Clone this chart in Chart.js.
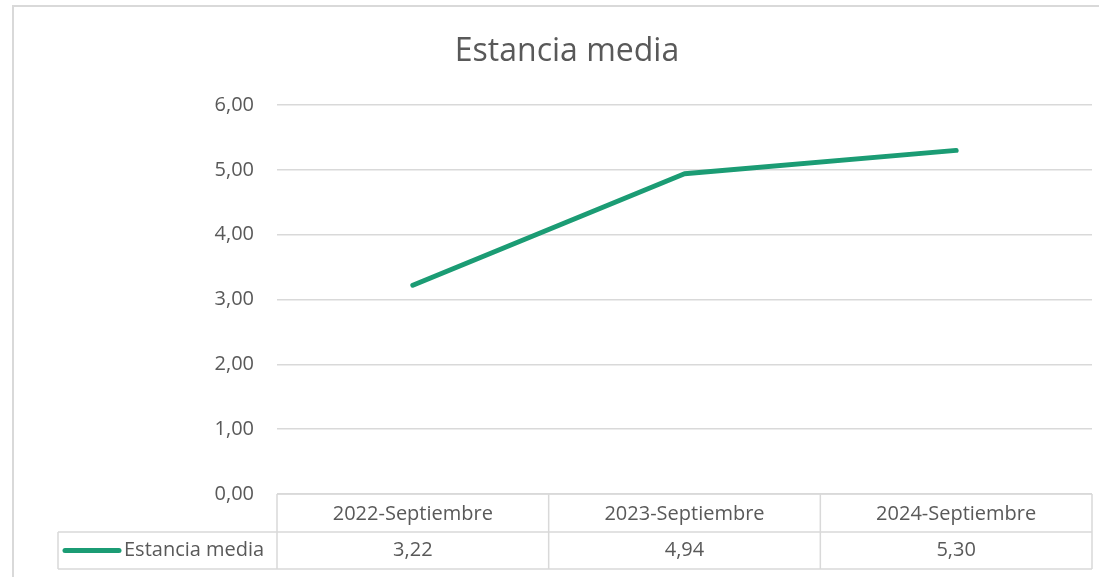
<!DOCTYPE html>
<html>
<head>
<meta charset="utf-8">
<script src="https://cdn.jsdelivr.net/npm/chart.js@4.4.1/dist/chart.umd.min.js"></script>
<style>
  html, body { margin: 0; padding: 0; background: #ffffff; }
  #wrap { width: 1099px; height: 577px; }
</style>
</head>
<body>
<div id="wrap"><canvas id="c" width="1099" height="577"></canvas></div>
<script>
const categories = ["2022-Septiembre", "2023-Septiembre", "2024-Septiembre"];
const seriesName = "Estancia media";
const values = [3.22, 4.94, 5.30];
const yMin = 0;
const yMax = 6;
const yStep = 1;
const chartTitle = "Estancia media";

const FONT = "'Open Sans', 'Noto Sans', sans-serif";
const TEXT = "#595959";
const GRID = "#d9d9d9";
const LINE = "#1b9c74";

const fmt = v => v.toFixed(2).replace(".", ",");

const titleShift = {
  id: "titleShift",
  afterLayout(chart) {
    const tb = chart.titleBlock;
    if (tb) { tb.left = 13; tb.right = 1121; tb.width = tb.right - tb.left; }
  }
};

const frameAndTable = {
  id: "frameAndTable",
  afterDraw(chart) {
    const ctx = chart.ctx;
    const ca = chart.chartArea;
    const xs = chart.scales.x;
    ctx.save();
    // outer frame (left + top visible)
    ctx.strokeStyle = GRID;
    ctx.lineWidth = 2;
    ctx.beginPath();
    ctx.moveTo(13, 577);
    ctx.lineTo(13, 6);
    ctx.lineTo(1099, 6);
    ctx.stroke();

    // data table
    const n = categories.length;
    const left = ca.left, right = ca.right;
    const colW = (right - left) / n;
    const top = ca.bottom, mid = ca.bottom + 38, bot = ca.bottom + 75;
    const legLeft = 58;
    ctx.lineWidth = 1.5;
    ctx.beginPath();
    ctx.moveTo(left, top); ctx.lineTo(right, top);
    ctx.moveTo(legLeft, mid); ctx.lineTo(right, mid);
    ctx.moveTo(legLeft, bot); ctx.lineTo(right, bot);
    ctx.moveTo(legLeft, mid); ctx.lineTo(legLeft, bot);
    for (let i = 0; i <= n; i++) {
      const x = left + colW * i;
      ctx.moveTo(x, top); ctx.lineTo(x, bot);
    }
    ctx.stroke();

    ctx.fillStyle = TEXT;
    ctx.font = "20px " + FONT;
    ctx.textAlign = "center";
    ctx.textBaseline = "middle";
    categories.forEach((c, i) => {
      const x = xs.getPixelForValue(i);
      ctx.fillText(c, x, (top + mid) / 2 + 1);
      ctx.fillText(fmt(values[i]), x, (mid + bot) / 2);
    });
    // legend key
    const ly = (mid + bot) / 2;
    ctx.strokeStyle = LINE;
    ctx.lineWidth = 5;
    ctx.lineCap = "round";
    ctx.beginPath();
    ctx.moveTo(65, ly); ctx.lineTo(119, ly);
    ctx.stroke();
    ctx.textAlign = "left";
    ctx.fillText(seriesName, 124, ly);
    ctx.restore();
  }
};

new Chart(document.getElementById("c"), {
  type: "line",
  data: {
    labels: categories,
    datasets: [{
      label: seriesName,
      data: values,
      borderColor: LINE,
      backgroundColor: LINE,
      borderWidth: 5,
      borderCapStyle: "round",
      borderJoinStyle: "round",
      pointRadius: 0,
      pointHoverRadius: 0,
      tension: 0,
      fill: false
    }]
  },
  options: {
    responsive: false,
    animation: false,
    events: [],
    layout: { padding: { left: 13, right: 7, top: 0, bottom: 83 } },
    plugins: {
      legend: { display: false },
      tooltip: { enabled: false },
      title: {
        display: true,
        text: chartTitle,
        color: TEXT,
        font: { family: FONT, size: 32, weight: "normal", lineHeight: 1.2 },
        padding: { top: 33, bottom: 33.6 }
      }
    },
    scales: {
      x: {
        type: "category",
        offset: true,
        display: false
      },
      y: {
        min: yMin,
        max: yMax,
        border: { display: false },
        grid: { color: GRID, lineWidth: 1.5, drawTicks: false },
        ticks: {
          stepSize: yStep,
          padding: 23,
          color: TEXT,
          font: { family: FONT, size: 20 },
          callback: v => fmt(v)
        },
        afterFit: s => { s.width = 277 - 13; }
      }
    }
  },
  plugins: [titleShift, frameAndTable]
});
</script>
</body>
</html>
